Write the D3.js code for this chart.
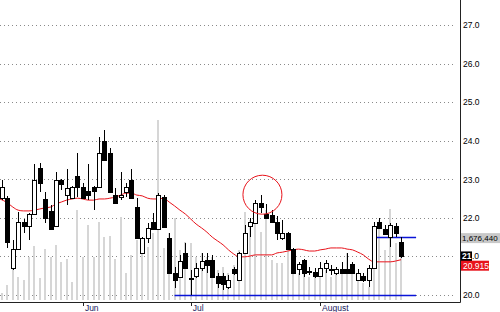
<!DOCTYPE html>
<html><head><meta charset="utf-8">
<script src="https://cdn.jsdelivr.net/npm/d3@7"></script>
<style>html,body{margin:0;padding:0;background:#fff;}svg{display:block;}</style>
</head><body>
<script>
// ---- data ----
const opens  = [22.51,22.51,20.70,21.19,21.89,21.79,22.10,23.29,22.49,22.18,21.79,22.98,22.59,22.51,23.09,22.80,22.70,22.80,22.80,23.99,23.68,22.59,22.54,22.67,22.98,22.28,21.09,21.48,21.89,21.71,22.54,21.48,20.57,20.47,21.09,20.43,20.49,20.70,20.91,20.91,20.49,20.49,20.21,20.67,20.39,21.09,21.79,21.87,22.39,22.10,22.07,21.89,21.48,21.61,21.19,20.67,20.91,20.62,20.60,20.49,20.70,20.67,20.57,20.67,20.67,20.80,20.39,20.49,20.39,20.70,21.89,21.71,21.50,21.79,21.37];
const highs  = [22.98,22.56,21.43,22.15,21.98,22.13,23.40,23.42,22.67,22.33,23.19,23.00,23.27,22.82,23.68,22.90,23.40,22.82,24.10,24.28,23.81,22.77,23.19,22.90,23.27,22.51,21.50,21.87,22.13,22.64,22.59,21.61,20.73,21.04,21.35,20.65,20.83,21.09,21.09,21.04,20.57,20.57,20.52,20.73,21.12,21.81,22.00,22.46,22.59,22.36,22.20,22.05,21.95,21.64,21.22,20.86,20.93,20.73,20.70,20.86,20.91,20.78,20.73,20.86,21.09,20.86,20.67,20.57,20.78,21.89,22.00,21.81,21.87,21.87,21.50];
const lows   = [22.46,21.22,20.65,21.17,21.61,21.43,22.08,22.67,21.87,21.69,21.76,22.72,22.33,22.49,22.54,22.49,22.46,22.20,22.78,23.48,22.65,22.36,22.46,22.54,22.49,21.45,21.06,21.35,21.69,21.69,21.74,20.55,20.18,20.44,20.67,20.00,20.44,20.62,20.57,20.44,20.18,20.13,20.16,20.52,20.36,21.06,21.50,21.84,22.13,21.98,21.87,21.43,21.43,21.17,20.55,20.52,20.47,20.52,20.44,20.47,20.57,20.52,20.52,20.55,20.55,20.55,20.36,20.34,20.21,20.67,21.71,21.55,21.24,21.50,20.96];
const closes = [22.80,21.37,21.19,21.89,21.79,22.10,22.98,22.90,22.00,21.71,22.98,22.88,22.77,22.80,22.80,22.51,22.59,22.70,23.68,23.50,22.67,22.39,22.59,22.80,22.51,21.48,21.48,21.74,21.71,22.59,21.76,20.57,20.39,20.88,20.70,20.41,20.70,20.88,20.78,20.47,20.31,20.29,20.39,20.57,21.09,21.61,21.89,22.39,22.28,22.00,21.89,21.61,21.61,21.19,20.57,20.80,20.57,20.62,20.49,20.70,20.83,20.67,20.67,20.57,20.57,20.57,20.57,20.39,20.70,21.79,21.74,21.58,21.81,21.61,21.01];
const volumes = [210000,450000,1290000,690000,600000,1290000,1620000,660000,1530000,1290000,1650000,1140000,1230000,540000,2700000,1290000,2250000,1290000,2340000,1890000,1920000,1230000,2490000,810000,1350000,1800000,1410000,1590000,2010000,5400000,1560000,2010000,2460000,1500000,1740000,1710000,1290000,1410000,1290000,1290000,900000,990000,810000,1050000,1500000,2640000,2400000,2490000,2040000,2700000,1200000,1110000,1110000,1590000,1500000,810000,1140000,690000,690000,690000,900000,690000,810000,900000,1410000,810000,600000,510000,390000,1500000,2400000,1500000,2730000,1710000,1676440];
const movingAvg = [22.49,22.39,22.28,22.20,22.18,22.18,22.20,22.23,22.26,22.28,22.36,22.41,22.46,22.49,22.51,22.49,22.46,22.46,22.49,22.49,22.51,22.54,22.59,22.64,22.64,22.59,22.57,22.51,22.49,22.49,22.51,22.41,22.31,22.20,22.10,21.97,21.84,21.74,21.63,21.50,21.40,21.30,21.17,21.06,20.99,20.99,21.01,21.04,21.04,21.04,21.04,21.09,21.11,21.14,21.17,21.19,21.17,21.14,21.14,21.17,21.19,21.22,21.22,21.22,21.19,21.17,21.11,21.04,20.93,20.86,20.86,20.86,20.86,20.88,20.915];
const priceTicks = [20,21,22,23,24,25,26,27];
const monthLabels = ["Jun","Jul","August"];
const monthIndex = [15,35,59];
const maLabel = "20.915";
const volLabel = "1,676,440";
const closeLabel = "21";
const supportLines = [{price:20.0, from:32, to:76.8},{price:21.5, from:69, to:76.8}];
const circleAt = {index:48.3, price:22.6, r:19.5};

// ---- drawing ----
const W = 500, H = 312;
const FONT = "'Liberation Sans', Arial, sans-serif";
const svg = d3.select("body").append("svg").attr("width", W).attr("height", H)
  .style("font-family", FONT);

const x = d3.scaleLinear().domain([0, 74]).range([2, 401]);
const y = d3.scaleLinear().domain([20, 27]).range([295, 25]);
const yV = d3.scaleLinear().domain([0, 9000000]).range([300, 0]);
const px = i => Math.round(x(i)) + 0.5;

// grid lines
svg.append("g").selectAll("line").data(priceTicks).join("line")
  .attr("x1", 0).attr("x2", 456)
  .attr("y1", d => Math.round(y(d)) + 0.5).attr("y2", d => Math.round(y(d)) + 0.5)
  .attr("stroke", "#8a8a8a").attr("stroke-width", 1).attr("stroke-dasharray", "1,3");

// volume bars
svg.append("g").selectAll("rect").data(volumes).join("rect")
  .attr("x", (d, i) => Math.round(x(i)) - 1)
  .attr("width", 2)
  .attr("y", d => yV(d))
  .attr("height", d => yV(0) - yV(d))
  .attr("fill", "#d6d6d6");

// moving average
svg.append("path").datum(movingAvg)
  .attr("d", d3.line().x((d, i) => i === 0 ? 0 : x(i)).y(d => y(d)).curve(d3.curveMonotoneX))
  .attr("fill", "none").attr("stroke", "#e8131b").attr("stroke-width", 1);

// support lines
svg.append("g").selectAll("line").data(supportLines).join("line")
  .attr("x1", d => x(d.from)).attr("x2", d => x(d.to))
  .attr("y1", d => Math.round(y(d.price)) + 0.5).attr("y2", d => Math.round(y(d.price)) + 0.5)
  .attr("stroke", "#0a14d8").attr("stroke-width", 1.5);

// candles
const cg = svg.append("g").attr("shape-rendering", "crispEdges");
const idx = d3.range(opens.length);
cg.selectAll("line").data(idx).join("line")
  .attr("x1", i => px(i)).attr("x2", i => px(i))
  .attr("y1", i => y(highs[i])).attr("y2", i => y(lows[i]))
  .attr("stroke", "#000").attr("stroke-width", 1);
cg.selectAll("rect").data(idx).join("rect")
  .attr("x", i => Math.round(x(i)) - 1.5)
  .attr("width", 4)
  .attr("y", i => Math.round(y(Math.max(opens[i], closes[i]))) + 0.5)
  .attr("height", i => Math.max(1, Math.round(Math.abs(y(opens[i]) - y(closes[i])))))
  .attr("fill", i => closes[i] >= opens[i] ? "#fff" : "#000")
  .attr("stroke", "#000").attr("stroke-width", 1);

// circle annotation
svg.append("circle")
  .attr("cx", x(circleAt.index)).attr("cy", y(circleAt.price)).attr("r", circleAt.r)
  .attr("fill", "none").attr("stroke", "#e8131b").attr("stroke-width", 1);

// frame
svg.append("line").attr("x1", 460.5).attr("x2", 460.5).attr("y1", 0).attr("y2", 302.5)
  .attr("stroke", "#222").attr("stroke-width", 1);
svg.append("line").attr("x1", 0).attr("x2", 460.5).attr("y1", 302.5).attr("y2", 302.5)
  .attr("stroke", "#222").attr("stroke-width", 1);

// right axis (21.0 is drawn together with the close label below)
const lastC = closes[closes.length - 1];
const fmt = d3.format(".1f");
const axisG = svg.append("g").attr("transform", "translate(460,0)")
  .call(d3.axisRight(y).tickValues(priceTicks.filter(t => t !== Math.round(lastC)))
    .tickFormat(fmt).tickSize(0).tickPadding(3));
axisG.select(".domain").remove();
axisG.selectAll("text").attr("font-size", "8.5px").attr("font-family", FONT).attr("fill", "#000");

// volume label
const lastV = volumes[volumes.length - 1];
svg.append("rect").attr("x", 461).attr("y", yV(lastV) - 11).attr("width", 39).attr("height", 10).attr("fill", "#c8c8c8");
svg.append("text").attr("x", 462).attr("y", yV(lastV) - 3).attr("font-size", "8px").attr("fill", "#000").text(volLabel);

// close label + remainder of the 21.0 tick
const tickY = y(Math.round(lastC));
svg.append("rect").attr("x", 461).attr("y", tickY - 5).attr("width", 11).attr("height", 10).attr("fill", "#000");
svg.append("text").attr("x", 462).attr("y", tickY + 3).attr("font-size", "8.5px").attr("font-weight", "bold").attr("fill", "#fff").text(closeLabel);
svg.append("text").attr("x", 472).attr("y", tickY + 3).attr("font-size", "8.5px").attr("fill", "#000")
  .text(fmt(Math.round(lastC)).slice(closeLabel.length));

// MA label
const lastMA = movingAvg[movingAvg.length - 1];
svg.append("rect").attr("x", 461).attr("y", y(lastMA) + 1).attr("width", 28).attr("height", 10).attr("fill", "#e8131b");
svg.append("text").attr("x", 463).attr("y", y(lastMA) + 9).attr("font-size", "8.5px").attr("fill", "#fff").text(maLabel);

// month axis
const mg = svg.append("g");
mg.selectAll("line").data(monthIndex).join("line")
  .attr("x1", i => px(i)).attr("x2", i => px(i)).attr("y1", 303).attr("y2", 306)
  .attr("stroke", "#222");
mg.selectAll("text").data(monthIndex).join("text")
  .attr("x", i => x(i) + 2).attr("y", 311)
  .attr("font-size", "8.5px").attr("fill", "#1a1a60")
  .text((d, k) => monthLabels[k]);
</script>
</body></html>
